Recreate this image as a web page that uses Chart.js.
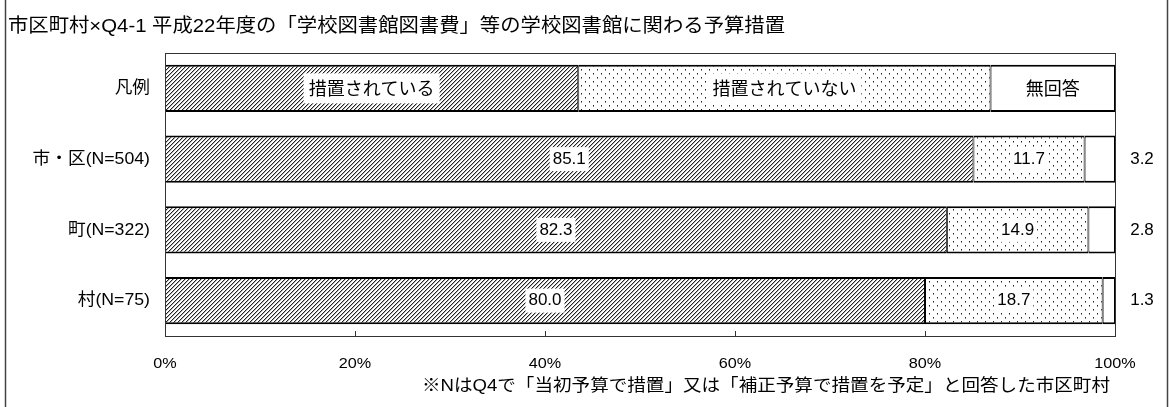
<!DOCTYPE html>
<html>
<head>
<meta charset="utf-8">
<script src="https://cdn.jsdelivr.net/npm/chart.js@4.4.1/dist/chart.umd.min.js"></script>
<style>
    html, body { margin: 0; padding: 0; background: #fff; }
</style>
</head>
<body>
<canvas id="chart" width="1170" height="407"></canvas>
<script>
const titleText = '市区町村×Q4-1 平成22年度の「学校図書館図書費」等の学校図書館に関わる予算措置';
const noteText = '※NはQ4で「当初予算で措置」又は「補正予算で措置を予定」と回答した市区町村';

const categories = ['凡例', '市・区(N=504)', '町(N=322)', '村(N=75)'];
const seriesNames = ['措置されている', '措置されていない', '無回答'];

const measured = [43.5, 85.1, 82.3, 80.0];
const notMeasured = [43.4, 11.7, 14.9, 18.7];
const noAnswer = [13.1, 3.2, 2.8, 1.3];

const xTicks = [0, 20, 40, 60, 80, 100];

const JP = '"Noto Sans CJK JP", sans-serif';
const MIX = '"Liberation Sans", "Noto Sans CJK JP", sans-serif';

const canvas = document.getElementById('chart');
const ctx = canvas.getContext('2d');

// hatch pattern ////
function makeHatch() {
    const c = document.createElement('canvas');
    c.width = 4; c.height = 4;
    const g = c.getContext('2d');
    g.fillStyle = '#fff';
    g.fillRect(0, 0, 4, 4);
    for (let i = 0; i < 4; i++) {
        g.fillStyle = '#222';
        g.fillRect(3 - i, i, 1, 1);
        g.fillStyle = '#b4b4b4';
        g.fillRect((4 - i) % 4, i, 1, 1);
    }
    return ctx.createPattern(c, 'repeat');
}

// small dots
function makeDots() {
    const c = document.createElement('canvas');
    c.width = 8; c.height = 8;
    const g = c.getContext('2d');
    g.fillStyle = '#fff';
    g.fillRect(0, 0, 8, 8);
    g.fillStyle = '#222';
    g.fillRect(1, 1, 1, 1);
    g.fillRect(5, 5, 1, 1);
    g.fillStyle = '#888';
    g.fillRect(1, 2, 1, 1);
    g.fillRect(5, 6, 1, 1);
    return ctx.createPattern(c, 'repeat');
}

function drawText(g, s, x, y, align, font, sx, box) {
    g.save();
    g.font = font;
    g.textBaseline = 'middle';
    g.textAlign = 'left';
    const w = g.measureText(s).width * sx;
    let x0 = x;
    if (align === 'center') x0 = x - w / 2;
    if (align === 'right') x0 = x - w;
    if (box) {
        g.fillStyle = '#fff';
        g.fillRect(x0 - box.px, y - box.h / 2, w + box.px * 2, box.h);
    }
    g.translate(x0, y);
    g.scale(sx, 1);
    g.fillStyle = '#000';
    g.fillText(s, 0, 0);
    g.restore();
}

function fitScale(g, s, font, width) {
    g.save();
    g.font = font;
    const w = g.measureText(s).width;
    g.restore();
    return width / w;
}

const decorPlugin = {
    id: 'decor',
    beforeDraw(chart) {
        const g = chart.ctx;
        g.save();
        g.fillStyle = '#fff';
        g.fillRect(0, 0, chart.width, chart.height);
        g.restore();
    },
    afterDatasetsDraw(chart) {
        const g = chart.ctx;
        const area = chart.chartArea;
        chart.data.datasets.forEach((ds, di) => {
            const meta = chart.getDatasetMeta(di);
            meta.data.forEach((bar, i) => {
                const cx = (bar.x + bar.base) / 2;
                if (i === 0) {
                    drawText(g, ds.label, cx, bar.y, 'center', '18px ' + JP, 1,
                        di < 2 ? { px: 5, h: 30 } : null);
                } else if (di < 2) {
                    drawText(g, ds.data[i].toFixed(1), cx, bar.y, 'center', '17px ' + MIX, 1,
                        { px: 3, h: 24 });
                } else {
                    drawText(g, ds.data[i].toFixed(1), area.right + 27, bar.y, 'center', '17px ' + MIX, 1);
                }
            });
        });
    },
    afterDraw(chart) {
        const g = chart.ctx;
        const area = chart.chartArea;
        const xs = chart.scales.x;
        const ys = chart.scales.y;

        // plot area frame
        g.save();
        g.strokeStyle = '#333';
        g.lineWidth = 1;
        g.strokeRect(area.left + 0.5, area.top + 0.5, area.right - area.left, area.bottom - area.top);
        // inward tick marks
        xTicks.forEach(v => {
            const px = Math.round(xs.getPixelForValue(v)) + 0.5;
            g.beginPath();
            g.moveTo(px, area.bottom - 5);
            g.lineTo(px, area.bottom);
            g.stroke();
        });
        // outer side lines
        g.strokeStyle = '#444';
        g.lineWidth = 1.5;
        g.beginPath();
        g.moveTo(5.5, 0); g.lineTo(5.5, chart.height);
        g.moveTo(1167.5, 0); g.lineTo(1167.5, chart.height);
        g.stroke();
        g.restore();

        // category labels
        categories.forEach((c, i) => {
            drawText(g, c, area.left - 15, ys.getPixelForValue(i), 'right', '17px ' + MIX, 1.04);
        });
        // x tick labels
        xTicks.forEach(v => {
            drawText(g, v + '%', xs.getPixelForValue(v), 364, 'center', '15px ' + MIX, 1.08);
        });

        // title and note
        const tFont = '19px ' + MIX;
        drawText(g, titleText, 8, 27, 'left', tFont, fitScale(g, titleText, tFont, 777));
        const nFont = '17px ' + MIX;
        drawText(g, noteText, 1110, 386, 'right', nFont, fitScale(g, noteText, nFont, 688));
    }
};

new Chart(canvas, {
    type: 'bar',
    data: {
        labels: categories,
        datasets: [
            { label: seriesNames[0], data: measured, backgroundColor: makeHatch() },
            { label: seriesNames[1], data: notMeasured, backgroundColor: makeDots() },
            { label: seriesNames[2], data: noAnswer, backgroundColor: '#fff' }
        ].map(d => Object.assign(d, {
            borderColor: '#000',
            borderWidth: { top: 2, bottom: 2, left: 1, right: 1 },
            borderSkipped: false,
            barPercentage: 0.67,
            categoryPercentage: 1
        }))
    },
    options: {
        indexAxis: 'y',
        responsive: false,
        animation: false,
        layout: { padding: { top: 53, right: 55, left: 0, bottom: 0 } },
        plugins: {
            legend: { display: false },
            tooltip: { enabled: false },
            title: { display: false }
        },
        scales: {
            x: {
                stacked: true,
                min: 0,
                max: 100,
                ticks: { display: false, stepSize: 20 },
                grid: { display: false },
                border: { display: false },
                afterFit: s => { s.height = 71; }
            },
            y: {
                stacked: true,
                ticks: { display: false },
                grid: { display: false },
                border: { display: false },
                afterFit: s => { s.width = 165; }
            }
        }
    },
    plugins: [decorPlugin]
});
</script>
</body>
</html>
